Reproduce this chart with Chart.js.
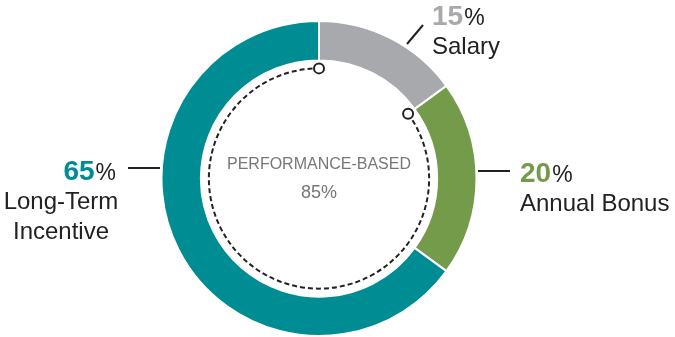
<!DOCTYPE html>
<html>
<head>
<meta charset="utf-8">
<script src="https://cdn.jsdelivr.net/npm/chart.js@4.4.0/dist/chart.umd.min.js"></script>
<style>
  html, body { margin: 0; padding: 0; background: #fff; }
  #wrap { position: relative; width: 675px; height: 337px; }
</style>
</head>
<body>
<div id="wrap"><canvas id="pay" width="675" height="337"></canvas></div>
<script>
// pay mix, clockwise from 12 o'clock
const labels = ['Salary', 'Annual Bonus', 'Long-Term Incentive'];
const shares = [15, 20, 65];
const colors = ['#a7a9ac', '#739b4a', '#008c93'];
const centerTitle = 'PERFORMANCE-BASED';
const centerValue = '85%';

// label blocks drawn around the ring
const callouts = [
    { num: '15', lines: ['Salary'], x: 432, y: 25, align: 'left', line: [407, 44, 423, 25] },
    { num: '20', lines: ['Annual Bonus'], x: 520, y: 182, align: 'left', line: [478, 171, 510, 171] },
    { num: '65', lines: ['Long-Term', 'Incentive'], x: 115, y: 180, align: 'right', cx: 61, line: [128, 168, 160, 168] }
];

const overlay = {
    id: 'overlay',
    afterDatasetsDraw(chart) {
        const ctx = chart.ctx;
        const arcs = chart.getDatasetMeta(0).data;
        const cx = arcs[0].x, cy = arcs[0].y;
        const r = Math.max(arcs[0].innerRadius - 8, 1);
        // performance-based part = everything after salary
        const a0 = arcs[1].startAngle;
        const a1 = arcs[2].endAngle;

        ctx.save();
        ctx.strokeStyle = '#222';
        ctx.lineWidth = 2;
        ctx.setLineDash([5, 3]);
        ctx.beginPath();
        ctx.arc(cx, cy, r, a0, a1);
        ctx.stroke();
        ctx.setLineDash([]);
        [a0, a1].forEach(a => {
            ctx.beginPath();
            ctx.arc(cx + r * Math.cos(a), cy + r * Math.sin(a), 5, 0, Math.PI * 2);
            ctx.fillStyle = '#fff';
            ctx.fill();
            ctx.stroke();
        });

        // center text
        ctx.fillStyle = '#777';
        ctx.textAlign = 'center';
        ctx.textBaseline = 'alphabetic';
        ctx.font = '16px "Liberation Sans", Arial, sans-serif';
        ctx.fillText(centerTitle, cx, cy - 10);
        ctx.font = '18px "Liberation Sans", Arial, sans-serif';
        ctx.fillText(centerValue, cx, cy + 19);

        // callouts
        callouts.forEach((c, i) => {
            ctx.strokeStyle = '#222';
            ctx.lineWidth = 2;
            ctx.beginPath();
            ctx.moveTo(c.line[0], c.line[1]);
            ctx.lineTo(c.line[2], c.line[3]);
            ctx.stroke();

            const numFont = 'bold 28px "Liberation Sans", Arial, sans-serif';
            const pctFont = '23px "Liberation Sans", Arial, sans-serif';
            ctx.font = numFont;
            const wNum = ctx.measureText(c.num).width;
            ctx.font = pctFont;
            const wPct = ctx.measureText('%').width;
            let x = c.align === 'left' ? c.x : c.x - wNum - wPct;
            ctx.textAlign = 'left';
            ctx.font = numFont;
            ctx.fillStyle = colors[i];
            ctx.fillText(c.num, x, c.y);
            ctx.font = pctFont;
            ctx.fillStyle = '#222';
            ctx.fillText('%', x + wNum + 1, c.y);

            ctx.font = '24px "Liberation Sans", Arial, sans-serif';
            c.lines.forEach((t, k) => {
                if (c.cx) {
                    ctx.textAlign = 'center';
                    ctx.fillText(t, c.cx, c.y + 29 + k * 30);
                } else {
                    ctx.fillText(t, c.x, c.y + 29 + k * 30);
                }
            });
        });
        ctx.restore();
    }
};

new Chart(document.getElementById('pay'), {
    type: 'doughnut',
    data: {
        labels: labels,
        datasets: [{
            data: shares,
            backgroundColor: colors,
            borderColor: '#fff',
            borderWidth: 2,
            hoverOffset: 0
        }]
    },
    options: {
        responsive: false,
        maintainAspectRatio: false,
        animation: false,
        cutout: '75%',
        layout: { padding: { left: 160, right: 197, top: 20, bottom: 0 } },
        plugins: {
            legend: { display: false },
            tooltip: { enabled: false }
        }
    },
    plugins: [overlay]
});
</script>
</body>
</html>
